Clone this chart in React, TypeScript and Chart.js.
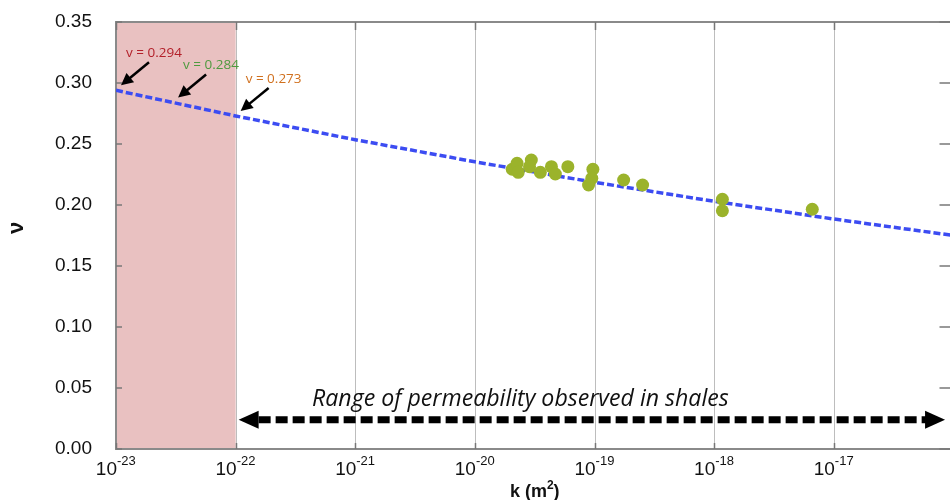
import React, { useEffect, useRef } from 'react';
import { Chart, registerables } from 'chart.js';

Chart.register(...registerables);

// ---- data ----
const decades = [1e-23, 1e-22, 1e-21, 1e-20, 1e-19, 1e-18, 1e-17, 1e-16];
const labelDecades = [1e-23, 1e-22, 1e-21, 1e-20, 1e-19, 1e-18, 1e-17];
const labelExponents = ['-23', '-22', '-21', '-20', '-19', '-18', '-17'];
const yTicks = [0, 0.05, 0.1, 0.15, 0.2, 0.25, 0.3, 0.35];

// fitted trend line (at each decade)
const fitK = [1e-23, 1e-22, 1e-21, 1e-20, 1e-19, 1e-18, 1e-17, 1e-16];
const fitNu = [0.294, 0.273, 0.2535, 0.2354, 0.2186, 0.203, 0.1885, 0.175];

// measured samples
const sampleK = [
  2.05e-20, 2.25e-20, 2.3e-20, 2.96e-20, 2.86e-20, 3.52e-20, 4.36e-20, 4.7e-20,
  5.98e-20, 9.68e-20, 9.48e-20, 8.91e-20, 1.75e-19, 2.52e-19, 1.17e-18, 1.17e-18, 6.6e-18,
];
const sampleNu = [
  0.2293, 0.2342, 0.2268, 0.2369, 0.2314, 0.2268, 0.2314, 0.2254,
  0.2314, 0.2293, 0.2219, 0.2164, 0.2205, 0.2164, 0.2047, 0.1953, 0.1965,
];

// callouts
const annotK = [1e-23, 3.0e-23, 1e-22];
const annotNu = [0.294, 0.284, 0.273];
const annotLabels = ['v = 0.294', 'v = 0.284', 'v = 0.273'];
const annotColors = ['#b3202a', '#4f9a3f', '#d0701e'];

// shaded band and range arrow
const shadeFromK = 1e-23;
const shadeToK = 1e-22;
const rangeFromK = 1e-22;
const rangeToK = 8.5e-17;
const rangeNu = 0.024;
const rangeLabel = 'Range of permeability observed in shales';
const rangeLabelK = 2.4e-20;
const rangeLabelNu = 0.035;

const SANS = '"Liberation Sans", Arial, sans-serif';
const CAL = '"Open Sans", sans-serif';

function line(ctx: CanvasRenderingContext2D, x1: number, y1: number, x2: number, y2: number) {
  ctx.beginPath();
  ctx.moveTo(x1, y1);
  ctx.lineTo(x2, y2);
  ctx.stroke();
}

const overlay = {
  id: 'overlay',
  beforeDatasetsDraw(chart: any) {
    const { ctx, chartArea: a, scales } = chart;
    const x = scales.x;
    const y = scales.y;
    ctx.save();
    const x0 = x.getPixelForValue(shadeFromK);
    const x1 = x.getPixelForValue(shadeToK);
    ctx.fillStyle = '#e9c1c1';
    ctx.fillRect(x0, a.top, x1 - x0, a.bottom - a.top);

    ctx.strokeStyle = '#bdbdbd';
    ctx.lineWidth = 1;
    decades.forEach((v) => {
      const px = Math.round(x.getPixelForValue(v)) + 0.5;
      line(ctx, px, a.top, px, a.bottom);
    });

    ctx.strokeStyle = '#8a8a8a';
    ctx.lineWidth = 2;
    ctx.strokeRect(a.left, a.top, a.right - a.left, a.bottom - a.top);

    ctx.strokeStyle = '#777';
    ctx.lineWidth = 1.5;
    yTicks.forEach((v) => {
      const py = y.getPixelForValue(v);
      line(ctx, a.left, py, a.left + 6, py);
      line(ctx, a.right - 14, py, a.right, py);
    });
    decades.forEach((v) => {
      const px = Math.round(x.getPixelForValue(v)) + 0.5;
      line(ctx, px, a.top, px, a.top + 8);
      line(ctx, px, a.bottom - 6, px, a.bottom);
    });
    ctx.restore();
  },
  afterDatasetsDraw(chart: any) {
    const { ctx, scales } = chart;
    const x = scales.x;
    const y = scales.y;
    ctx.save();

    // callout arrows
    annotK.forEach((k, i) => {
      const px = x.getPixelForValue(k) + 5;
      const py = y.getPixelForValue(annotNu[i]) - 5;
      const tx = px + 28;
      const ty = py - 23;
      const dx = px - tx;
      const dy = py - ty;
      const len = Math.hypot(dx, dy);
      const ux = dx / len;
      const uy = dy / len;
      const hl = 12;
      const hw = 6;
      const bx = px - ux * hl;
      const by = py - uy * hl;
      ctx.strokeStyle = '#000';
      ctx.fillStyle = '#000';
      ctx.lineWidth = 2.5;
      line(ctx, tx, ty, bx + ux * 2, by + uy * 2);
      ctx.beginPath();
      ctx.moveTo(px, py);
      ctx.lineTo(bx - uy * hw, by + ux * hw);
      ctx.lineTo(bx + uy * hw, by - ux * hw);
      ctx.closePath();
      ctx.fill();

      ctx.font = `13.5px ${CAL}`;
      ctx.fillStyle = annotColors[i];
      ctx.textAlign = 'left';
      ctx.textBaseline = 'middle';
      ctx.fillText(annotLabels[i], tx - 23, ty - 9);
    });

    // range arrow
    const xl = x.getPixelForValue(rangeFromK) + 3;
    const xr = x.getPixelForValue(rangeToK);
    const ry = y.getPixelForValue(rangeNu);
    ctx.strokeStyle = '#000';
    ctx.fillStyle = '#000';
    ctx.lineWidth = 7;
    ctx.setLineDash([12, 5]);
    line(ctx, xl + 20, ry, xr - 18, ry);
    ctx.setLineDash([]);
    ctx.beginPath();
    ctx.moveTo(xl, ry);
    ctx.lineTo(xl + 20, ry - 9);
    ctx.lineTo(xl + 20, ry + 9);
    ctx.closePath();
    ctx.fill();
    ctx.beginPath();
    ctx.moveTo(xr, ry);
    ctx.lineTo(xr - 20, ry - 9);
    ctx.lineTo(xr - 20, ry + 9);
    ctx.closePath();
    ctx.fill();

    ctx.font = `italic 20px ${CAL}`;
    const w = ctx.measureText(rangeLabel).width;
    const fs = (20 * 417) / w;
    ctx.font = `italic ${fs.toFixed(2)}px ${CAL}`;
    ctx.textAlign = 'center';
    ctx.textBaseline = 'alphabetic';
    ctx.fillStyle = '#111';
    ctx.fillText(rangeLabel, x.getPixelForValue(rangeLabelK), y.getPixelForValue(rangeLabelNu));
    ctx.restore();
  },
  afterDraw(chart: any) {
    const { ctx, chartArea: a, scales } = chart;
    const x = scales.x;
    ctx.save();
    ctx.fillStyle = '#111';
    ctx.textBaseline = 'alphabetic';
    labelDecades.forEach((v, i) => {
      const px = x.getPixelForValue(v);
      ctx.font = `19px ${SANS}`;
      ctx.textAlign = 'right';
      ctx.fillText('10', px + 1, a.bottom + 26);
      ctx.font = `13px ${SANS}`;
      ctx.textAlign = 'left';
      ctx.fillText(labelExponents[i], px + 1, a.bottom + 16);
    });

    // x title: k (m²)
    const cx = (a.left + a.right) / 2;
    const by = a.bottom + 48;
    ctx.font = `bold 18px ${SANS}`;
    const w1 = ctx.measureText('k (m').width;
    const w3 = ctx.measureText(')').width;
    ctx.font = `bold 12px ${SANS}`;
    const w2 = ctx.measureText('2').width;
    const sx = cx - (w1 + w2 + w3) / 2;
    ctx.textAlign = 'left';
    ctx.font = `bold 18px ${SANS}`;
    ctx.fillText('k (m', sx, by);
    ctx.font = `bold 12px ${SANS}`;
    ctx.fillText('2', sx + w1, by - 8);
    ctx.font = `bold 18px ${SANS}`;
    ctx.fillText(')', sx + w1 + w2, by);

    // y title
    ctx.translate(17, 228);
    ctx.rotate(-Math.PI / 2);
    ctx.font = `bold 22px ${SANS}`;
    ctx.textAlign = 'center';
    ctx.textBaseline = 'middle';
    ctx.fillText('ν', 0, 0);
    ctx.restore();
  },
};

export default function App() {
  const ref = useRef<HTMLCanvasElement | null>(null);
  useEffect(() => {
    if (!ref.current) return;
    const chart = new Chart(ref.current, {
      type: 'scatter',
      data: {
        datasets: [
          {
            label: 'samples',
            data: sampleK.map((k, i) => ({ x: k, y: sampleNu[i] })),
            backgroundColor: '#9bb32b',
            borderWidth: 0,
            pointRadius: 6.5,
            pointHoverRadius: 6.5,
          },
          {
            label: 'fit',
            data: fitK.map((k, i) => ({ x: k, y: fitNu[i] })),
            showLine: true,
            borderColor: '#3c4cf2',
            borderWidth: 3.5,
            borderDash: [7, 3],
            pointRadius: 0,
            fill: false,
          },
        ],
      },
      options: {
        animation: false,
        responsive: false,
        layout: { padding: { top: 22, right: 4, left: 0, bottom: 0 } },
        plugins: { legend: { display: false }, tooltip: { enabled: false } },
        scales: {
          x: {
            type: 'logarithmic',
            min: 1e-23,
            max: 1e-16,
            grid: { display: false, drawTicks: false },
            border: { display: false },
            ticks: { display: false },
            afterFit: (s: any) => {
              s.height = 51;
              s.paddingLeft = 0;
              s.paddingRight = 0;
            },
          },
          y: {
            min: 0,
            max: 0.35,
            grid: { display: false, drawTicks: false },
            border: { display: false },
            ticks: {
              stepSize: 0.05,
              padding: 24,
              color: '#111',
              font: { family: SANS, size: 19 },
              callback: (v: any) => Number(v).toFixed(2),
            },
            afterFit: (s: any) => {
              s.width = 116;
              s.paddingTop = 0;
              s.paddingBottom = 0;
            },
          },
        },
      },
      plugins: [overlay],
    });
    return () => chart.destroy();
  }, []);
  return (
    <div style={{ position: 'absolute', left: 0, top: 0, width: 950, height: 500, overflow: 'hidden', background: '#fff' }}>
      <canvas ref={ref} width={960} height={500} style={{ display: 'block' }} />
    </div>
  );
}
